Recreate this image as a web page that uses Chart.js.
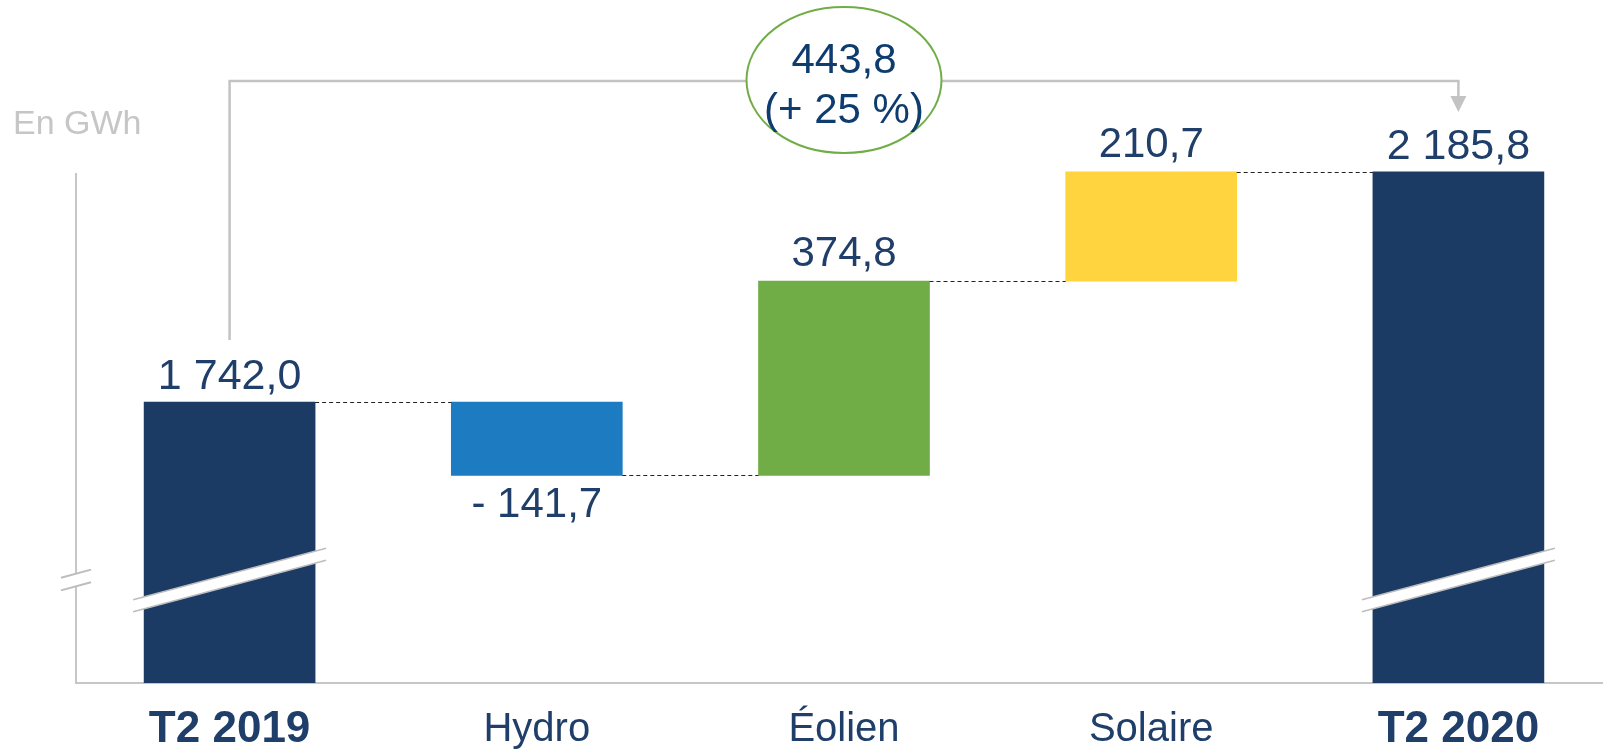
<!DOCTYPE html>
<html><head><meta charset="utf-8">
<script src="https://cdn.jsdelivr.net/npm/chart.js@4.4.1/dist/chart.umd.min.js"></script>
<style>html,body{margin:0;padding:0;overflow:hidden;background:#fff}canvas{display:block}</style>
</head><body>
<canvas id="c" width="1612" height="751"></canvas>
<script>
// ---- data ----
const categories = ['T2 2019', 'Hydro', 'Éolien', 'Solaire', 'T2 2020'];
const kinds = ['total', 'delta', 'delta', 'delta', 'total'];
const values = [1742.0, -141.7, 374.8, 210.7, 2185.8];
const barColors = ['#1B3A64', '#1C7BC1', '#70AD47', '#FFD43F', '#1B3A64'];
const variationLines = ['443,8', '(+ 25 %)'];
const unitLabel = 'En GWh';
const yMin = 1200, yMax = 2500;

const FONT = '"Liberation Sans", Arial, Helvetica, sans-serif';
const NAVY_TEXT = '#1F3F6A';

function fmt(v) {
  const a = Math.abs(v);
  const p = a.toFixed(1).split('.');
  const i = p[0].replace(/\B(?=(\d{3})+(?!\d))/g, ' ');
  return (v < 0 ? '- ' : '') + i + ',' + p[1];
}

// waterfall ranges built from values
let running = 0;
const ranges = values.map((v, i) => {
  if (kinds[i] === 'total') { running = v; return [0, v]; }
  const start = running; running = start + v; return [start, running];
});

const overlay = {
  id: 'overlay',
  beforeDatasetsDraw(chart) {
    const ctx = chart.ctx, area = chart.chartArea, ys = chart.scales.y;
    ctx.save();
    ctx.strokeStyle = '#C6C6C6'; ctx.lineWidth = 2;
    ctx.beginPath();
    ctx.moveTo(area.left, ys.getPixelForValue(values[values.length - 1]) + 1);
    ctx.lineTo(area.left, area.bottom);
    ctx.stroke();
    ctx.restore();
  },
  afterDatasetsDraw(chart) {
    const ctx = chart.ctx, area = chart.chartArea, ys = chart.scales.y;
    const bars = chart.getDatasetMeta(0).data;
    ctx.save();

    // dashed connectors
    ctx.strokeStyle = '#222'; ctx.lineWidth = 1; ctx.setLineDash([4, 3]);
    for (let i = 0; i < bars.length - 1; i++) {
      const y = Math.round(ys.getPixelForValue(ranges[i][1])) + 0.5;
      ctx.beginPath();
      ctx.moveTo(bars[i].x + bars[i].width / 2, y);
      ctx.lineTo(bars[i + 1].x - bars[i + 1].width / 2, y);
      ctx.stroke();
    }
    ctx.setLineDash([]);

    // breaks
    const cy = area.bottom - 103;
    function brk(cx, ext, half, slope, lw) {
      const yl = cy - slope * ext, yr = cy + slope * ext;
      ctx.fillStyle = '#fff';
      ctx.beginPath();
      ctx.moveTo(cx - ext, yl - half); ctx.lineTo(cx + ext, yr - half);
      ctx.lineTo(cx + ext, yr + half); ctx.lineTo(cx - ext, yl + half);
      ctx.closePath(); ctx.fill();
      ctx.strokeStyle = '#BDBDBD'; ctx.lineWidth = lw;
      ctx.beginPath();
      ctx.moveTo(cx - ext, yl - half); ctx.lineTo(cx + ext, yr - half);
      ctx.moveTo(cx - ext, yl + half); ctx.lineTo(cx + ext, yr + half);
      ctx.stroke();
    }
    brk(area.left, 15, 6.3, -0.27, 2);
    bars.forEach((b, i) => { if (kinds[i] === 'total') brk(b.x, b.width / 2 + 11, 6, -0.267, 1.6); });

    // value labels
    ctx.textAlign = 'center'; ctx.textBaseline = 'alphabetic';
    bars.forEach((b, i) => {
      const top = Math.min(b.y, b.base), bottom = Math.max(b.y, b.base);
      ctx.fillStyle = NAVY_TEXT;
      if (kinds[i] === 'total') {
        ctx.font = '43px ' + FONT;
        ctx.fillText(fmt(values[i]), b.x, top - 13);
      } else if (values[i] >= 0) {
        ctx.font = '42px ' + FONT;
        ctx.fillText(fmt(values[i]), b.x, top - 15);
      } else {
        ctx.font = '42px ' + FONT;
        ctx.fillText(fmt(values[i]), b.x, bottom + 42);
      }
    });

    // bracket arrow
    const b0 = bars[0], bl = bars[bars.length - 1], bm = bars[2];
    const lineY = 81;
    ctx.strokeStyle = '#C3C3C3'; ctx.lineWidth = 2.5;
    ctx.beginPath();
    ctx.moveTo(b0.x, Math.min(b0.y, b0.base) - 62);
    ctx.lineTo(b0.x, lineY); ctx.lineTo(bl.x, lineY); ctx.lineTo(bl.x, 98);
    ctx.stroke();
    ctx.fillStyle = '#C3C3C3';
    ctx.beginPath();
    ctx.moveTo(bl.x - 8, 96); ctx.lineTo(bl.x + 8, 96); ctx.lineTo(bl.x, 112);
    ctx.closePath(); ctx.fill();

    // ellipse
    ctx.fillStyle = '#fff'; ctx.strokeStyle = '#70AD47'; ctx.lineWidth = 2;
    ctx.beginPath(); ctx.ellipse(bm.x, 80, 97.5, 73, 0, 0, Math.PI * 2);
    ctx.fill(); ctx.stroke();
    ctx.fillStyle = '#0E3C6E'; ctx.font = '42px ' + FONT; ctx.textAlign = 'center';
    ctx.fillText(variationLines[0], bm.x, 73);
    ctx.fillText(variationLines[1], bm.x, 123);

    // unit
    ctx.fillStyle = '#C6C6C6'; ctx.font = '34px ' + FONT; ctx.textAlign = 'left';
    ctx.fillText(unitLabel, 13, 134);
    ctx.restore();
  }
};

new Chart(document.getElementById('c'), {
  type: 'bar',
  data: {
    labels: categories,
    datasets: [{
      data: ranges,
      backgroundColor: barColors,
      borderWidth: 0,
      barThickness: 171,
      clip: 0
    }]
  },
  options: {
    responsive: false,
    animation: false,
    layout: { padding: { top: 9, left: 76, right: 0, bottom: 0 } },
    plugins: { legend: { display: false }, tooltip: { enabled: false } },
    scales: {
      x: {
        offset: true,
        grid: { display: false, drawTicks: false },
        border: { display: true, color: '#C6C6C6', width: 2 },
        ticks: {
          padding: 22,
          color: NAVY_TEXT,
          font: (c) => ({
            family: FONT,
            size: kinds[c.index] === 'total' ? 44 : 40,
            weight: kinds[c.index] === 'total' ? 'bold' : 'normal',
            lineHeight: '50px'
          })
        },
        afterFit: (s) => { s.height = 68; }
      },
      y: { display: false, min: yMin, max: yMax }
    }
  },
  plugins: [overlay]
});
</script>
</body></html>
